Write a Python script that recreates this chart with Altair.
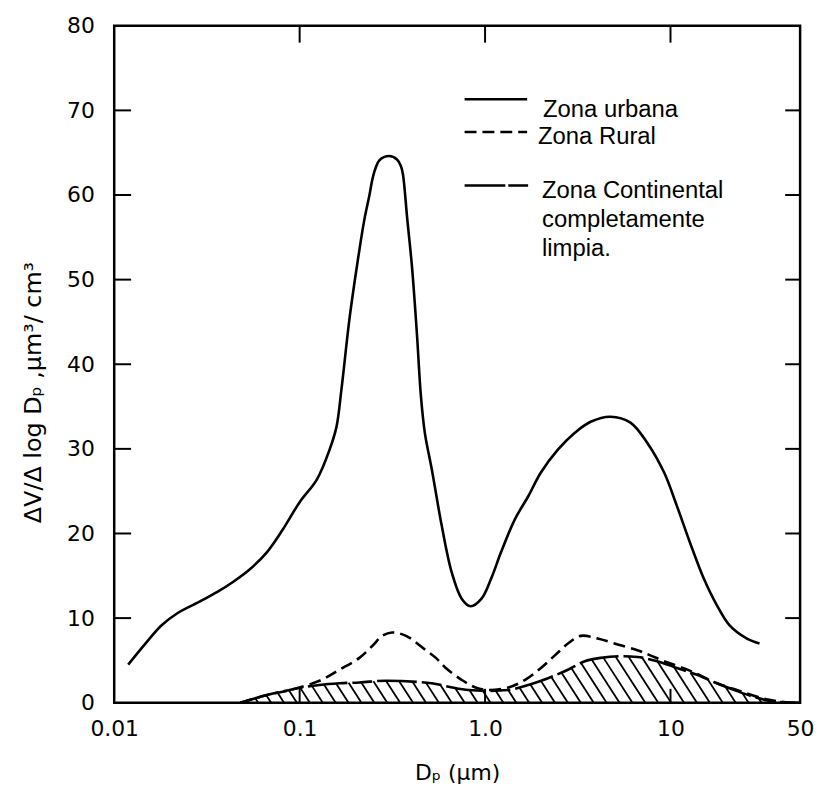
import altair as alt
import numpy as np
import pandas as pd

# ---------------- data ----------------
SERIES_NAMES = ["Zona urbana", "Zona Rural", "Zona Continental\ncompletamente\nlimpia."]

urban_x = [0.0119, 0.0145, 0.0179, 0.0220, 0.0292, 0.0360, 0.0439, 0.0541, 0.0667, 0.0813,
           0.100, 0.124, 0.145, 0.158, 0.168, 0.186, 0.205, 0.223, 0.238, 0.2465, 0.256,
           0.269, 0.304, 0.335, 0.352, 0.361, 0.380, 0.404, 0.429, 0.451, 0.474,
           0.516, 0.584, 0.661, 0.748, 0.835, 0.957, 1.08, 1.22, 1.45, 1.71, 2.00, 2.47,
           3.05, 3.71, 4.75, 6.08, 7.50, 9.24, 10.85, 12.7, 15.1, 17.8, 20.9, 25.7, 30.2]
urban_y = [4.5, 6.8, 9.1, 10.6, 12.0, 13.1, 14.3, 15.8, 17.8, 20.5,
           23.7, 26.4, 29.9, 32.6, 37.0, 45.5, 52.0, 57.0, 60.0, 61.8, 63.1,
           64.1, 64.6, 64.2, 63.4, 62.4, 57.3, 51.4, 43.6, 36.2, 31.8,
           27.6, 20.9, 15.4, 12.3, 11.4, 12.3, 14.7, 17.8, 21.7, 24.4, 27.2, 29.9,
           31.9, 33.2, 33.8, 33.1, 30.7, 27.2, 23.2, 19.0, 14.7, 11.5, 9.1, 7.6, 7.0]

rural_x = [0.0479, 0.0667, 0.0886, 0.128, 0.164, 0.210, 0.2465, 0.279, 0.315, 0.375,
           0.480, 0.543, 0.614, 0.748, 0.888, 1.04, 1.335, 1.645, 2.00, 2.38, 2.80,
           3.28, 4.05, 4.99, 6.63, 7.78, 9.24, 12.7, 17.8, 23.6, 32.9, 43.7]
rural_y = [0.0, 0.9, 1.5, 2.6, 3.9, 5.3, 6.7, 7.9, 8.3, 7.9,
           6.2, 5.3, 4.1, 2.7, 1.8, 1.5, 1.8, 2.7, 4.1, 5.6, 7.0,
           7.9, 7.6, 7.0, 6.2, 5.6, 4.9, 3.8, 2.3, 1.4, 0.4, 0.0]

cont_x = [0.0479, 0.0667, 0.092, 0.128, 0.164, 0.210, 0.293, 0.516, 0.637, 0.815,
          1.04, 1.335, 1.71, 2.185, 2.80, 3.45, 4.20, 5.37, 6.63, 8.48, 10.85,
          13.9, 17.8, 22.7, 29.1, 37.2, 50.0]
cont_y = [0.0, 0.9, 1.6, 2.1, 2.3, 2.4, 2.6, 2.3, 1.9, 1.5,
          1.4, 1.5, 2.1, 2.9, 3.9, 4.9, 5.3, 5.5, 5.4, 4.9, 4.1,
          3.3, 2.3, 1.4, 0.6, 0.1, 0.0]

X_TICKS = [0.01, 0.1, 1, 10, 50]
X_LABELS = ["0.01", "0.1", "1.0", "10", "50"]
Y_TICKS = [0, 10, 20, 30, 40, 50, 60, 70, 80]
INNER_Y_TICKS = [10, 20, 30, 40, 50, 60, 70]
INNER_X_TICKS = [0.1, 1, 10]

X_TITLE = "Dₚ (μm)"
Y_TITLE = "ΔV/Δ log Dₚ ,μm³/ cm³"

# ---------------- layout ----------------
W, H = 691, 682
XMIN, XMAX = 0.01, 50
YMAX = 80
DEC = np.log10(XMAX) - np.log10(XMIN)


def to_px(x):
    return (np.log10(np.asarray(x, dtype=float)) - np.log10(XMIN)) / DEC * W


def to_x(px):
    return 10 ** (np.log10(XMIN) + np.asarray(px, dtype=float) / W * DEC)


# hatch lines under the continental curve (derived from its values)
YPX = H / YMAX
SLOPE = 1.55
SPACING = 13
gpx = np.linspace(to_px(cont_x[0]), to_px(cont_x[-1]), 3000)
ghc = np.interp(gpx, to_px(cont_x), np.array(cont_y)) * YPX
hatch = []
for xb in np.arange(to_px(cont_x[0]) + 5, W - 2, SPACING):
    m = gpx <= xb
    g = gpx[m][::-1]
    h = ghc[m][::-1]
    lh = (xb - g) * SLOPE
    ok = lh >= h
    if not ok.any():
        continue
    i = int(np.argmax(ok))
    if lh[i] < 2.5:
        continue
    hatch.append({"x": float(to_x(g[i])), "y": float(lh[i] / YPX),
                  "x2": float(to_x(xb)), "y2": 0.0})

urban = pd.DataFrame({"x": urban_x, "y": urban_y})
rural = pd.DataFrame({"x": rural_x, "y": rural_y})
cont = pd.DataFrame({"x": cont_x, "y": cont_y})
hatch_df = pd.DataFrame(hatch)

label_expr = " : ".join(
    f"datum.value < {v * 1.001} ? '{l}'" for v, l in zip(X_TICKS[:-1], X_LABELS[:-1])
) + f" : '{X_LABELS[-1]}'"

TICK_FONT = "DejaVu Sans"
xscale = alt.Scale(type="log", domain=[XMIN, XMAX], nice=False)
yscale = alt.Scale(domain=[0, YMAX], nice=False, zero=False)

X = alt.X("x:Q", scale=xscale,
          axis=alt.Axis(values=X_TICKS, labelExpr=label_expr, title=X_TITLE,
                        grid=False, domain=False, ticks=False, tickSize=0,
                        labelFlush=False, labelOverlap=False, labelPadding=16,
                        labelFont=TICK_FONT, labelFontSize=22, labelColor="black",
                        titleFont=TICK_FONT, titleFontSize=22, titleFontWeight="normal",
                        titleColor="black", titlePadding=23))
Y = alt.Y("y:Q", scale=yscale,
          axis=alt.Axis(values=Y_TICKS, title=Y_TITLE, grid=False, domain=False,
                        ticks=False, tickSize=0, labelFlush=False, labelOverlap=False,
                        labelPadding=20, labelFont=TICK_FONT, labelFontSize=22,
                        labelColor="black", titleFont=TICK_FONT, titleFontSize=24,
                        titleFontWeight="normal", titleColor="black", titlePadding=21,
                        titleY=369))

LW = 2.6
DASH_RURAL = [12, 6]
DASH_CONT = [40, 5, 20, 5]

hatch_layer = alt.Chart(hatch_df).mark_rule(color="black", strokeWidth=1.8).encode(
    x=X, y=Y, x2="x2:Q", y2="y2:Q")
cont_layer = alt.Chart(cont).mark_line(color="black", strokeWidth=LW, strokeDash=DASH_CONT,
                                       interpolate="monotone").encode(x=X, y=Y)
rural_layer = alt.Chart(rural).mark_line(color="black", strokeWidth=LW, strokeDash=DASH_RURAL,
                                         interpolate="catmull-rom").encode(x=X, y=Y)
urban_layer = alt.Chart(urban).mark_line(color="black", strokeWidth=LW,
                                         interpolate="catmull-rom").encode(x=X, y=Y)

yt = pd.DataFrame({"y": INNER_Y_TICKS})
xt = pd.DataFrame({"x": INNER_X_TICKS})
left_ticks = alt.Chart(yt).mark_rule(color="black", strokeWidth=2).encode(
    y=Y, x=alt.value(0), x2=alt.value(17))
right_ticks = alt.Chart(yt).mark_rule(color="black", strokeWidth=2).encode(
    y=Y, x=alt.value(W - 15), x2=alt.value(W))
top_ticks = alt.Chart(xt).mark_rule(color="black", strokeWidth=2).encode(
    x=X, y=alt.value(0), y2=alt.value(17))
bottom_ticks = alt.Chart(xt).mark_rule(color="black", strokeWidth=2).encode(
    x=X, y=alt.value(H - 14), y2=alt.value(H))

one = alt.Data(values=[{}])
LEG_FONT = "Liberation Sans"
LEG_SIZE = 24
leg_solid = alt.Chart(one).mark_rule(color="black", strokeWidth=LW).encode(
    x=alt.value(353), x2=alt.value(416), y=alt.value(74))
leg_dash = alt.Chart(one).mark_rule(color="black", strokeWidth=LW, strokeDash=DASH_RURAL).encode(
    x=alt.value(353), x2=alt.value(416), y=alt.value(107))
leg_cont = alt.Chart(one).mark_rule(color="black", strokeWidth=LW, strokeDash=[41, 3, 20, 3]).encode(
    x=alt.value(353), x2=alt.value(418), y=alt.value(161))
txt_u = alt.Chart(one).mark_text(align="left", baseline="alphabetic", font=LEG_FONT,
                                 fontSize=LEG_SIZE, color="black").encode(
    x=alt.value(432), y=alt.value(92), text=alt.value(SERIES_NAMES[0]))
txt_r = alt.Chart(one).mark_text(align="left", baseline="alphabetic", font=LEG_FONT,
                                 fontSize=LEG_SIZE, color="black").encode(
    x=alt.value(427), y=alt.value(119), text=alt.value(SERIES_NAMES[1]))
txt_c = alt.Chart(one).mark_text(align="left", baseline="alphabetic", font=LEG_FONT,
                                 fontSize=LEG_SIZE, color="black", lineBreak="\n",
                                 lineHeight=29).encode(
    x=alt.value(431), y=alt.value(174), text=alt.value(SERIES_NAMES[2]))

chart = alt.layer(
    hatch_layer, cont_layer, rural_layer, urban_layer,
    left_ticks, right_ticks, top_ticks, bottom_ticks,
    leg_solid, leg_dash, leg_cont, txt_u, txt_r, txt_c,
).properties(
    width=W, height=H,
    padding={"left": 14, "top": 4, "right": 0, "bottom": 0},
    background="white",
).configure_view(stroke="black", strokeWidth=2.5)

chart.save("out.html", embed_options={"renderer": "svg", "actions": False})
